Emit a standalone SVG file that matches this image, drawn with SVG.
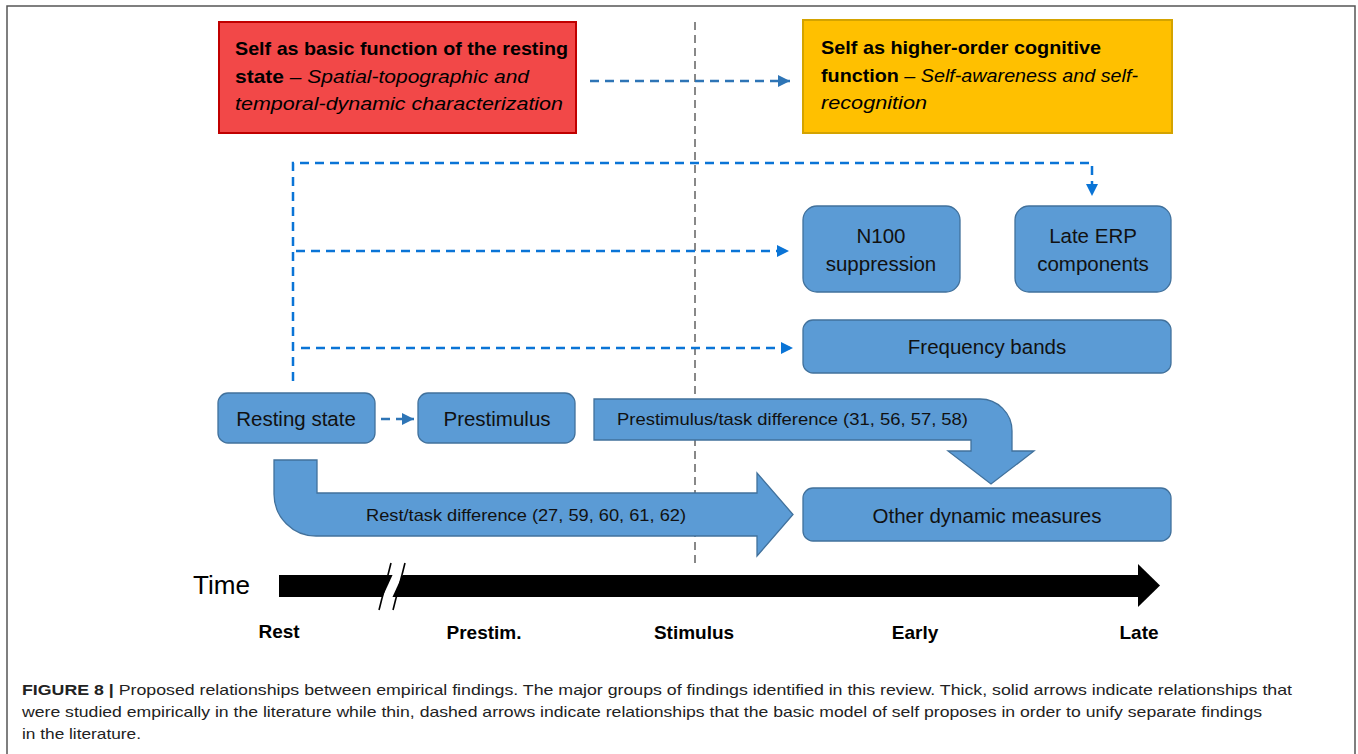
<svg xmlns="http://www.w3.org/2000/svg" width="1358" height="754" viewBox="0 0 1358 754">
<defs>
<style>
.box{fill:#5b9bd5;stroke:#41719c;stroke-width:1.3}
.lbl{font-family:"Liberation Sans",Arial,sans-serif;font-size:20.5px;fill:#111;text-anchor:middle}
.small{font-family:"Liberation Sans",Arial,sans-serif;font-size:17px;fill:#111}
.head{font-family:"Liberation Sans",Arial,sans-serif;font-size:19px;fill:#000}
.b{font-weight:bold}
.i{font-style:italic}
.dash{fill:none;stroke:#0a74d6;stroke-width:2.5;stroke-dasharray:9 6}
.dash2{fill:none;stroke:#2e75b6;stroke-width:2.5;stroke-dasharray:9 6}
.tick{font-family:"Liberation Sans",Arial,sans-serif;font-size:19px;font-weight:bold;fill:#000;text-anchor:middle}
.cap{font-family:"Liberation Sans",Arial,sans-serif;font-size:15px;fill:#222}
</style>
<marker id="ah" viewBox="0 0 10 10" refX="10" refY="5" markerWidth="5" markerHeight="5" markerUnits="strokeWidth" orient="auto">
<path d="M0,0 L10,5 L0,10 Z" fill="#0a74d6"/>
</marker>
<marker id="ah2" viewBox="0 0 10 10" refX="10" refY="5" markerWidth="5" markerHeight="5" markerUnits="strokeWidth" orient="auto">
<path d="M0,0 L10,5 L0,10 Z" fill="#2e75b6"/>
</marker>
</defs>
<rect width="1358" height="754" fill="#fff"/>
<!-- frame -->
<path d="M7,754 V6 H1355 V754" fill="none" stroke="#555" stroke-width="1.5"/>

<!-- stimulus line -->
<line x1="695" y1="22" x2="695" y2="566" stroke="#888" stroke-width="2" stroke-dasharray="8 5"/>

<g id="connectors">
<line class="dash2" x1="590" y1="81" x2="790" y2="81" marker-end="url(#ah2)"/>
<path class="dash" d="M293,381 V163 H1092 V196" marker-end="url(#ah)"/>
<line class="dash" x1="296" y1="251" x2="789" y2="251" marker-end="url(#ah)"/>
<line class="dash" x1="301" y1="348" x2="793" y2="348" marker-end="url(#ah)"/>
<line class="dash2" x1="381" y1="419" x2="414" y2="419" stroke-dasharray="10 8" marker-end="url(#ah2)"/>
</g>

<g id="basic-self">
<rect x="219" y="22" width="357" height="111" fill="#f24848" stroke="#c00000" stroke-width="2"/>
<text class="head" x="235" y="55" textLength="333" lengthAdjust="spacingAndGlyphs"><tspan class="b">Self as basic function of the resting</tspan></text>
<text class="head" x="235" y="83" textLength="294" lengthAdjust="spacingAndGlyphs"><tspan class="b">state</tspan><tspan class="i"> – Spatial-topographic and</tspan></text>
<text class="head i" x="235" y="110" textLength="328" lengthAdjust="spacingAndGlyphs">temporal-dynamic characterization</text>
</g>

<g id="higher-self">
<rect x="803" y="20" width="369" height="113" fill="#ffc000" stroke="#d4a300" stroke-width="2"/>
<text class="head" x="821" y="54" textLength="280" lengthAdjust="spacingAndGlyphs"><tspan class="b">Self as higher-order cognitive</tspan></text>
<text class="head" x="821" y="82" textLength="317" lengthAdjust="spacingAndGlyphs"><tspan class="b">function</tspan><tspan class="i"> – Self-awareness and self-</tspan></text>
<text class="head i" x="821" y="109" textLength="106" lengthAdjust="spacingAndGlyphs">recognition</text>
</g>

<g id="n100">
<rect class="box" x="803" y="206" width="157" height="86" rx="14"/>
<text class="lbl" x="881" y="243">N100</text>
<text class="lbl" x="881" y="271">suppression</text>
</g>

<g id="late-erp">
<rect class="box" x="1015" y="206" width="156" height="86" rx="14"/>
<text class="lbl" x="1093" y="243">Late ERP</text>
<text class="lbl" x="1093" y="271">components</text>
</g>

<g id="frequency-bands">
<rect class="box" x="803" y="320" width="368" height="53" rx="10"/>
<text class="lbl" x="987" y="354">Frequency bands</text>
</g>

<g id="resting-state">
<rect class="box" x="218" y="393" width="157" height="50" rx="10"/>
<text class="lbl" x="296" y="426">Resting state</text>
</g>

<g id="prestimulus">
<rect class="box" x="418" y="393" width="157" height="50" rx="10"/>
<text class="lbl" x="497" y="426">Prestimulus</text>
</g>

<g id="prestim-task-diff">
<path class="box" d="M594,399 H980 A32,32 0 0 1 1012,431 V451 H1034 L991,484 L948,451 H971 V440 H594 Z"/>
<text class="small" x="617" y="425" textLength="351" lengthAdjust="spacingAndGlyphs">Prestimulus/task difference (31, 56, 57, 58)</text>
</g>

<g id="rest-task-diff">
<path class="box" d="M274,460 H317 V493 H757 V473 L793,514.5 L757,556 V536 H316 A42,42 0 0 1 274,494 Z"/>
<text class="small" x="366" y="521" textLength="320" lengthAdjust="spacingAndGlyphs">Rest/task difference (27, 59, 60, 61, 62)</text>
</g>

<g id="other-dynamic">
<rect class="box" x="803" y="488" width="368" height="53" rx="10"/>
<text class="lbl" x="987" y="523">Other dynamic measures</text>
</g>

<g id="timeline">
<text x="193" y="594" font-family="Liberation Sans,Arial,sans-serif" font-size="26" fill="#000" textLength="57" lengthAdjust="spacingAndGlyphs">Time</text>
<rect x="279" y="575" width="860" height="22" fill="#000"/>
<polygon points="1138,564 1160,585.5 1138,607" fill="#000"/>
<polygon points="382,598 393,574 403,574 392,598" fill="#fff"/>
<line x1="379" y1="610" x2="391" y2="563" stroke="#000" stroke-width="1.6"/>
<line x1="393" y1="610" x2="405" y2="563" stroke="#000" stroke-width="1.6"/>
<text class="tick" x="279" y="638">Rest</text>
<text class="tick" x="484" y="639">Prestim.</text>
<text class="tick" x="694" y="639">Stimulus</text>
<text class="tick" x="915" y="639">Early</text>
<text class="tick" x="1139" y="639">Late</text>
</g>

<g id="caption">
<text class="cap" x="22" y="695" textLength="1270" lengthAdjust="spacingAndGlyphs"><tspan font-weight="bold">FIGURE 8 |</tspan> Proposed relationships between empirical findings. The major groups of findings identified in this review. Thick, solid arrows indicate relationships that</text>
<text class="cap" x="22" y="717" textLength="1240" lengthAdjust="spacingAndGlyphs">were studied empirically in the literature while thin, dashed arrows indicate relationships that the basic model of self proposes in order to unify separate findings</text>
<text class="cap" x="22" y="739" textLength="119" lengthAdjust="spacingAndGlyphs">in the literature.</text>
</g>
</svg>
